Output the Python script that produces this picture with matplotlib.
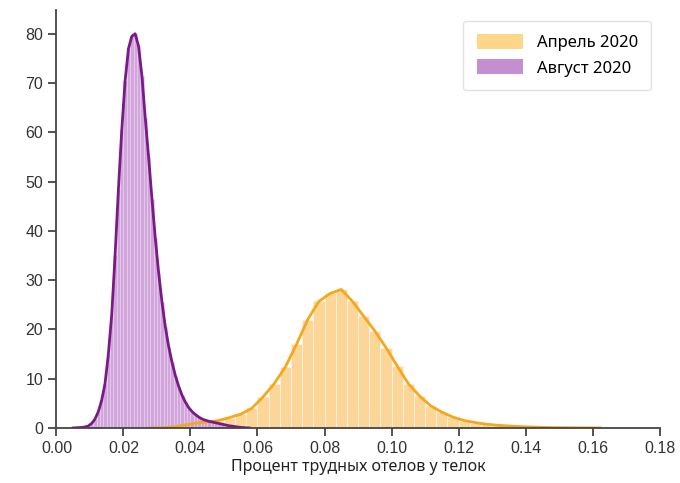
import numpy as np
import matplotlib
matplotlib.use('Agg')
import matplotlib.pyplot as plt
from matplotlib.patches import Patch

# bin widths
aug_width = 0.001
apr_width = 0.02 / 6

# Август 2020 - bar heights (bin centres start at 0.0075)
aug_start = 0.007
aug_heights = [0.1, 0.2, 0.4, 0.9, 1.8, 3.3, 5.6, 9.0, 15, 23,
               35, 48.5, 60.5, 70.5, 77, 79.5, 80, 77.5, 71.5, 63,
               55, 46.5, 38.5, 31.5, 25.5, 20.5, 16.5, 13.3, 10.6, 8.4,
               6.6, 5.2, 4.1, 3.3, 2.7, 2.2, 1.8, 1.55, 1.35, 1.2,
               1.05, 0.9, 0.75, 0.6, 0.45, 0.35, 0.25, 0.15, 0.08]

# Апрель 2020 - bar heights (bins start at 0.03)
apr_start = 0.03
apr_heights = [0.05, 0.2, 0.6, 1.0, 1.2, 1.5, 2.1, 2.8, 4.0, 6.3,
               9.0, 12.4, 17.0, 22.0, 25.7, 27.3, 28.1, 25.7, 22.7, 19.7,
               16.3, 12.6, 9.0, 6.5, 4.5, 3.2, 2.2, 1.5, 1.1, 0.75,
               0.55, 0.4, 0.28, 0.2, 0.12, 0.08, 0.05, 0.03, 0.02]

labels = ['Апрель 2020', 'Август 2020']
xticks = [0.00, 0.02, 0.04, 0.06, 0.08, 0.10, 0.12, 0.14, 0.16, 0.18]
yticks = [0, 10, 20, 30, 40, 50, 60, 70, 80]

apr_fill, apr_line = '#FCD698', '#F4A81E'
aug_fill, aug_line = '#CC9CD8', '#7A1A86'

fig = plt.figure(figsize=(6.8, 4.83), dpi=100)
ax = fig.add_axes([0.083, 0.114, 0.887, 0.865])

aug_x = aug_start + aug_width * (np.arange(len(aug_heights)) + 0.5)
apr_x = apr_start + apr_width * (np.arange(len(apr_heights)) + 0.5)

ax.bar(apr_x, apr_heights, width=apr_width, color=apr_fill,
       edgecolor='#FFF3DE', linewidth=0.6)
ax.bar(aug_x, aug_heights, width=aug_width, color=aug_fill, alpha=0.9,
       edgecolor='#EBD3F0', linewidth=0.4)

ax.plot(np.r_[apr_start - 0.002, apr_x, apr_x[-1] + 0.004],
        np.r_[0, apr_heights, 0], color=apr_line, lw=2)
ax.plot(np.r_[aug_start - 0.002, aug_x, aug_x[-1] + 0.002],
        np.r_[0, aug_heights, 0], color=aug_line, lw=2)

ax.set_xlim(0, 0.18)
ax.set_ylim(0, 84.8)
ax.set_xticks(xticks)
ax.set_xticklabels([f'{t:.2f}' for t in xticks])
ax.set_yticks(yticks)
for lab in ax.get_xticklabels() + ax.get_yticklabels():
    lab.set_family(['Liberation Sans', 'DejaVu Sans'])
    lab.set_fontsize(11.5)
    lab.set_color('#333333')

for s in ['top', 'right']:
    ax.spines[s].set_visible(False)
for s in ['left', 'bottom']:
    ax.spines[s].set_color('#444444')
    ax.spines[s].set_linewidth(1.3)
ax.tick_params(length=6, width=1.3, color='#444444')

ax.set_xlabel('Процент трудных отелов у телок', fontsize=11.5,
              family=['Noto Sans', 'DejaVu Sans'], color='#222222', labelpad=2)

handles = [Patch(facecolor='#FDD68A'), Patch(facecolor='#C48FD0')]
leg = ax.legend(handles, labels, loc='upper right', bbox_to_anchor=(1.0, 0.995),
                prop={'family': ['Noto Sans', 'DejaVu Sans'], 'size': 12},
                frameon=True, fancybox=True, handlelength=2.8, handleheight=1.0,
                borderpad=0.8, labelspacing=0.5)
leg.get_frame().set_edgecolor('#DDDDDD')
leg.get_frame().set_linewidth(1.0)

fig.savefig('out.png', dpi=100)
